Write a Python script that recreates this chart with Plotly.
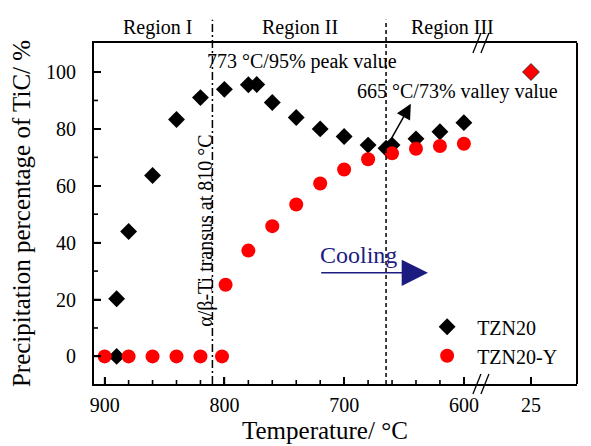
import plotly.graph_objects as go

# ---------------- data ----------------
temp_tzn20 = [890, 890, 880, 860, 840, 820, 800, 780, 773, 760, 740, 720, 700, 680, 665, 660, 640, 620, 600]
pct_tzn20 = [0, 20.3, 43.9, 63.6, 83.3, 91.0, 93.9, 95.5, 95.6, 89.3, 84.0, 80.0, 77.3, 74.3, 73.2, 74.3, 76.5, 79.0, 82.2]

temp_tzn20y = [900, 880, 860, 840, 820, 802, 799, 780, 760, 740, 720, 700, 680, 660, 640, 620, 600]
pct_tzn20y = [0, 0, 0, 0, 0, 0, 25.2, 37.2, 45.8, 53.4, 60.8, 65.7, 69.3, 71.4, 73.0, 74.0, 74.8]

temp_room = [25]
pct_room = [100]

x_major_ticks = [900, 800, 700, 600]
x_minor_ticks = [880, 860, 840, 820, 780, 760, 740, 720, 680, 660, 640, 620]
x_room_ticks = [25]
y_major_ticks = [0, 20, 40, 60, 80, 100]
y_minor_ticks = [10, 30, 50, 70, 90]

FONT = "Liberation Serif"

fig = go.Figure()
fig.add_trace(go.Scatter(
    x=temp_tzn20, y=pct_tzn20, mode="markers", name="TZN20",
    marker=dict(symbol="diamond", size=13, color="black"),
    xaxis="x", yaxis="y"))
fig.add_trace(go.Scatter(
    x=temp_tzn20y, y=pct_tzn20y, mode="markers", name="TZN20-Y",
    marker=dict(symbol="circle", size=14, color="red"),
    xaxis="x", yaxis="y"))
fig.add_trace(go.Scatter(
    x=temp_room, y=pct_room, mode="markers", name="25 °C", showlegend=False,
    marker=dict(symbol="diamond", size=13, color="red", line=dict(color="#222", width=0.8)),
    xaxis="x2", yaxis="y"))

SPLIT = 0.801


def ax_style(**kw):
    d = dict(
        showline=True, linecolor="#000000", linewidth=2,
        ticks="inside", ticklen=7, tickwidth=2, tickcolor="#000000",
        showgrid=False, zeroline=False, automargin=False, layer="above traces",
        tickfont=dict(family=FONT, size=20, color="black"),
    )
    d.update(kw)
    return d


# page body has an 8px default margin: shrink figure so the plot area lands where intended
fig.update_layout(
    template="none",
    width=583, height=438,
    autosize=False,
    margin=dict(l=86, r=14, t=35, b=62, pad=0),
    paper_bgcolor="white", plot_bgcolor="rgba(0,0,0,0)",
    font=dict(family=FONT, size=20, color="black"),
    xaxis=ax_style(domain=[0, SPLIT], range=[908.9, 585.8], tickmode="array",
                   tickvals=x_major_ticks, mirror=True, anchor="y", ticklabelstandoff=2),
    xaxis2=ax_style(domain=[SPLIT, 1], range=[66.8, -13.4], tickmode="array",
                    tickvals=x_room_ticks, mirror=True, anchor="y", ticklabelstandoff=2),
    yaxis=ax_style(domain=[0, 1], range=[-9.7, 110.2], tickmode="array",
                   tickvals=y_major_ticks, anchor="x", ticklabelstandoff=12,
                   title=dict(text="Precipitation percentage of TiC/ %",
                              font=dict(family=FONT, size=25), standoff=14)),
    legend=dict(x=0.669, y=0.225, xanchor="left", yanchor="top", itemwidth=50,
                bgcolor="rgba(0,0,0,0)", font=dict(family=FONT, size=20),
                tracegroupgap=0, itemsizing="trace"),
    showlegend=True,
)

W = 482.7
H = 341.0


def px_x(p):
    return (p - 94.3) / W


def px_y(p):
    return (384.3 - p) / H


TICK = dict(color="black", width=1.6)
shapes = []
# right frame
shapes.append(dict(type="line", xref="paper", yref="paper", x0=1, x1=1, y0=0, y1=1,
                   line=dict(color="black", width=2)))
# inward tick marks along the bottom and left axes, placed through the axes' own scales
for v in x_major_ticks:
    shapes.append(dict(type="line", xref="x", yref="paper", x0=v, x1=v, y0=0, y1=7 / H, line=TICK))
for v in x_minor_ticks:
    shapes.append(dict(type="line", xref="x", yref="paper", x0=v, x1=v, y0=0, y1=4 / H, line=TICK))
for v in x_room_ticks:
    shapes.append(dict(type="line", xref="x2", yref="paper", x0=v, x1=v, y0=0, y1=7 / H, line=TICK))
for v in y_major_ticks:
    shapes.append(dict(type="line", xref="paper", yref="y", x0=0, x1=7 / W, y0=v, y1=v, line=TICK))
for v in y_minor_ticks:
    shapes.append(dict(type="line", xref="paper", yref="y", x0=0, x1=4 / W, y0=v, y1=v, line=TICK))
# region dividers
shapes.append(dict(type="line", xref="x", yref="paper", x0=810, x1=810, y0=0, y1=px_y(20),
                   line=dict(color="black", width=1.5, dash="8px,3px,2px,3px")))
shapes.append(dict(type="line", xref="x", yref="paper", x0=665, x1=665, y0=0, y1=px_y(20),
                   line=dict(color="black", width=1.5, dash="4px,3px")))
# axis break marks
for cy in (384.3, 43.3):
    for cx in (477, 485):
        shapes.append(dict(type="line", xref="paper", yref="paper",
                           x0=px_x(cx - 4), x1=px_x(cx + 4),
                           y0=px_y(cy + 10), y1=px_y(cy - 10),
                           line=dict(color="black", width=1.3)))
fig.update_layout(shapes=shapes)

C = dict(xanchor="center", yanchor="middle", showarrow=False)
ann = []
for txt, xv in (("Region I", 856.1), ("Region II", 736.6), ("Region III", 609.2)):
    ann.append(dict(text=txt, x=xv, y=px_y(28), xref="x", yref="paper",
                    font=dict(family=FONT, size=20), **C))
ann.append(dict(text="773 °C/95% peak value", x=735, y=103.6, xref="x", yref="y",
                font=dict(family=FONT, size=20), **C))
ann.append(dict(text="665 °C/73% valley value", x=605, y=93.1, xref="x", yref="y",
                font=dict(family=FONT, size=20), **C))
ann.append(dict(text="", x=644.3, y=88.8, xref="x", yref="y", ax=665, ay=73.2,
                axref="x", ayref="y", showarrow=True, arrowhead=2, arrowsize=2,
                arrowwidth=1.5, arrowcolor="black"))
ann.append(dict(text="α/β-Ti transus at 810 °C", x=815.3, y=44.2, xref="x", yref="y",
                textangle=-90, font=dict(family=FONT, size=20), **C))
ann.append(dict(text="Cooling", x=687.8, y=35.7, xref="x", yref="y",
                font=dict(family=FONT, size=24, color="#1c1c80"), **C))
ann.append(dict(text="", x=630, y=29.4, xref="x", yref="y", ax=720.4, ay=29.4,
                axref="x", ayref="y", showarrow=True, arrowhead=2, arrowsize=3.5,
                arrowwidth=1.5, arrowcolor="#1c1c80"))
ann.append(dict(text="Temperature/ °C", x=px_x(325), y=px_y(431), xref="paper", yref="paper",
                font=dict(family=FONT, size=25), **C))
fig.update_layout(annotations=ann)

fig.write_html("out.html")
